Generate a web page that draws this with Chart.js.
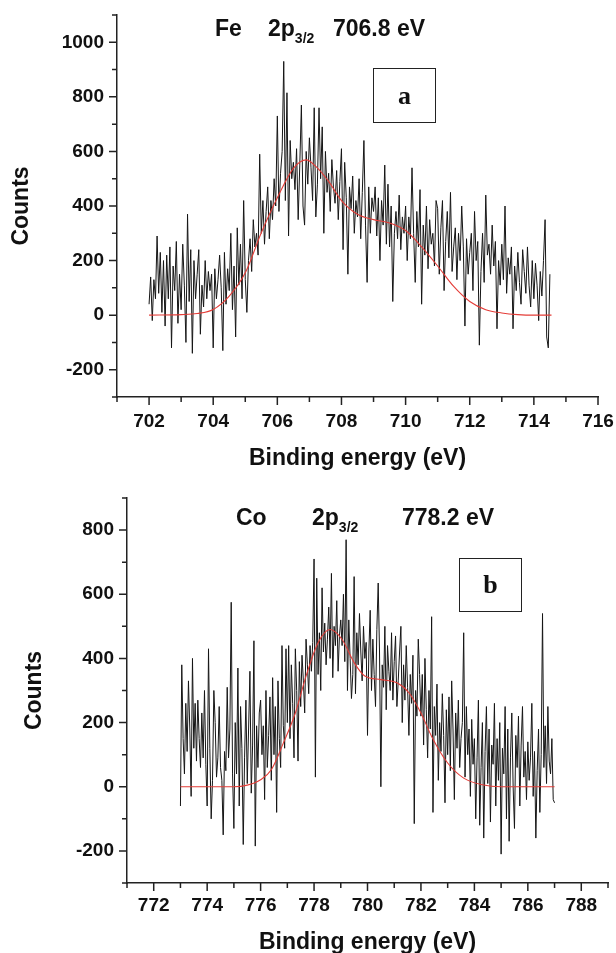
<!DOCTYPE html>
<html>
<head>
<meta charset="utf-8">
<script src="https://cdn.jsdelivr.net/npm/chart.js@4.4.1/dist/chart.umd.min.js"></script>
<style>
  html, body { margin: 0; padding: 0; background: #fff; }
  body { width: 616px; height: 953px; position: relative; overflow: hidden; font-family: "Liberation Sans", Arial, sans-serif; }
  canvas { position: absolute; left: 0; }
  .t { position: absolute; font-weight: bold; font-size: 23px; line-height: 1; color: #111; white-space: nowrap; }
  .sub { font-size: 14px; position: relative; top: 7px; }
  .box { position: absolute; border: 1.5px solid #222; box-sizing: border-box; display: flex; align-items: center; justify-content: center;
         font-family: "Liberation Serif", "Times New Roman", serif; font-weight: bold; font-size: 26px; color: #111; }
</style>
</head>
<body>
<canvas id="feChart" width="616" height="480" style="top:0px"></canvas>
<canvas id="coChart" width="616" height="490" style="top:470px"></canvas>

<div class="t" style="left:215px; top:17px;">Fe</div>
<div class="t" style="left:268px; top:17px;">2p<span class="sub">3/2</span></div>
<div class="t" style="left:333px; top:17px;">706.8 eV</div>
<div class="box" style="left:373px; top:68px; width:63px; height:55px;">a</div>

<div class="t" style="left:236px; top:506px;">Co</div>
<div class="t" style="left:312px; top:506px;">2p<span class="sub">3/2</span></div>
<div class="t" style="left:402px; top:506px;">778.2 eV</div>
<div class="box" style="left:459px; top:558px; width:63px; height:54px;">b</div>

<script>
// ---------- Data: Fe 2p3/2 (panel a) ----------
const feStart = 702.0;
const feStep = 0.05;
const feCounts = [
  40, 140, -20, 130, 60, 290, 80, 230, 10, 200, -40, 220, 60, 250, -120, 180, 90, 270, -30, 150,
  20, 260, 110, -100, 370, 50, 240, -140, 200, 60, 150, 240, -70, 110, 30, 200, 60, 160, 90, 150,
  -120, 170, 60, 130, 220, 100, -130, 230, 40, 170, 90, 300, 20, 180, -80, 320, 110, 260, 60, 420,
  130, 10, 200, 280, 160, 350, 250, 300, 220, 590, 300, 420, 260, 380, 470, 280, 420, 350, 500, 400,
  730, 380, 520, 600, 930, 420, 815, 290, 640, 500, 560, 460, 610, 350, 550, 770, 400, 330, 600, 480,
  650, 540, 420, 760, 360, 480, 760, 500, 690, 300, 600, 450, 520, 380, 570, 470, 410, 530, 350, 490,
  610, 240, 560, 430, 150, 470, 390, 510, 300, 420, 360, 500, 280, 450, 640, 330, 120, 470, 300, 430,
  380, 470, 290, 430, 200, 420, 330, 550, 260, 480, 250, 400, 50, 300, 380, 280, 440, 240, 360, 300,
  400, 200, 360, 280, 540, 300, 120, 380, 250, 460, 40, 330, 220, 400, 170, 350, 260, 300, 180, 420,
  390, 150, 320, 420, 90, 270, 380, 210, 450, 160, 250, 320, 130, 300, 200, 400, 250, -40, 280, 150,
  230, 300, 90, 380, 200, 270, -110, 160, 300, 120, 440, 220, 260, 150, 330, 180, 270, -50, 200, 110,
  260, 130, 400, 80, 210, 150, 250, -50, 180, 90, 230, 120, 40, 240, 160, 80, 250, 110, 30, 200,
  60, 190, 110, -20, 160, 70, 200, 350, -80, -120, 150
];
const feFitX = [702.0, 703.0, 703.5, 704.0, 704.5, 705.0, 705.5, 706.0, 706.5, 706.9, 707.2, 707.6, 708.0, 708.5, 709.0, 709.5, 710.0, 710.5, 711.0, 711.5, 712.0, 712.5, 713.0, 713.5, 714.0, 714.55];
const feFitY = [0, 2, 6, 21, 70, 155, 302, 430, 538, 569, 545, 490, 420, 370, 350, 338, 310, 250, 180, 105, 50, 20, 8, 2, 0, 0];

// ---------- Data: Co 2p3/2 (panel b) ----------
const coStart = 773.0;
const coStep = 0.05;
const coCounts = [
  -60, 380, 150, 40, 260, 110, 330, 180, -30, 400, 120, 260, 80, 270, 150, 60, 230, 90, 300, 70,
  -60, 430, 120, -100, 20, 300, 200, 30, 90, 250, 60, 20, -150, 110, 50, 310, 90, 180, 575, 40,
  -130, 200, 40, 370, -60, 250, 120, -180, 90, 270, 10, 180, 360, -20, 130, 455, -185, 190, 60, 230,
  270, 100, 190, -40, 300, 60, 160, 280, 20, 340, 100, 250, -80, 330, 150, 60, 440, 190, 120, 430,
  200, 440, 150, 380, 260, 90, 430, 300, 80, 390, 250, 410, 330, 230, 460, 380, 290, 440, 360, 450,
  710, 30, 650, 350, 480, 300, 620, 420, 510, 380, 460, 560, 400, 665, 340, 500, 440, 580, 360, 470,
  520, 440, 600, 390, 770, 300, 520, 400, 275, 350, 655, 290, 480, 380, 540, 420, 330, 500, 400, 450,
  160, 420, 550, 300, 460, 350, 250, 490, 635, 420, 0, 380, 310, 500, 240, 440, 360, 300, 480, 270,
  390, 470, 250, 330, 420, 500, 200, 380, 270, 440, 310, 160, 350, 260, 410, -115, 300, 220, 460, 350,
  220, 350, 130, 400, 240, 90, 300, 180, 530, -80, 250, 160, 320, 20, 200, 110, 290, 160, -50, 240,
  100, 280, 50, 330, 180, -40, 230, 120, 270, 60, 150, 200, 480, 30, 250, 100, 180, -30, 210, 70,
  150, -100, 90, 270, -120, 60, 200, -160, 110, 250, 10, 180, -110, 130, 70, 260, -60, 150, 20, 200,
  -210, 120, 40, 250, -100, 180, -170, 90, 230, 0, -130, 160, 60, 220, -60, 130, 250, 30, 110, -40,
  140, 20, 90, 260, -30, 110, -160, 50, 180, -80, 100, 540, 60, 190, 10, 250, 80, 40, 150, -40,
  -50
];
const coFitX = [773.0, 774.0, 775.0, 775.5, 776.0, 776.4, 776.85, 777.3, 777.7, 778.15, 778.6, 779.05, 779.5, 779.9, 780.5, 781.1, 781.55, 782.0, 782.4, 783.0, 783.6, 784.3, 785.0, 787.0];
const coFitY = [0, 0, 0, 5, 22, 53, 136, 230, 345, 449, 490, 459, 387, 345, 334, 324, 293, 230, 157, 74, 27, 6, 0, 0];

// ---------- Axis settings ----------
const feXTicks = { min: 701, max: 716, step: 1, labelEvery: 2 };
const feYTicks = { min: -300, max: 1100, step: 100, labelEvery: 200 };
const coXTicks = { min: 771, max: 789, step: 1, labelEvery: 2 };
const coYTicks = { min: -300, max: 900, step: 100, labelEvery: 200 };

function toPoints(start, step, arr) {
  return arr.map((v, i) => ({ x: +(start + i * step).toFixed(3), y: v }));
}
function zip(xs, ys) { return xs.map((x, i) => ({ x: x, y: ys[i] })); }

const tickMarks = {
  id: 'tickMarks',
  afterDraw(chart, args, opts) {
    const { ctx, chartArea: ca } = chart;
    const x = chart.scales.x, y = chart.scales.y;
    ctx.save();
    ctx.strokeStyle = '#222';
    ctx.lineWidth = 1.5;
    ctx.beginPath();
    x.ticks.forEach(t => {
      const v = Math.round(t.value);
      const px = x.getPixelForValue(v);
      const len = (v % opts.xEvery === 0) ? 8 : 5;
      ctx.moveTo(px, ca.bottom); ctx.lineTo(px, ca.bottom + len);
    });
    y.ticks.forEach(t => {
      const v = Math.round(t.value);
      const py = y.getPixelForValue(v);
      const len = (v % opts.yEvery === 0) ? 8 : 5;
      ctx.moveTo(ca.left, py); ctx.lineTo(ca.left - len, py);
    });
    ctx.stroke();
    ctx.restore();
  }
};

function makeChart(id, cfg) {
  const tickFont = { family: '"Liberation Sans", Arial, sans-serif', size: 19, weight: 'bold' };
  const titleFont = { family: '"Liberation Sans", Arial, sans-serif', size: 23, weight: 'bold' };
  return new Chart(document.getElementById(id), {
    type: 'line',
    data: {
      datasets: [
        { data: cfg.fit, borderColor: 'rgb(228,60,55)', borderWidth: 1.1, pointRadius: 0,
          cubicInterpolationMode: 'monotone', fill: false },
        { data: cfg.raw, borderColor: '#151515', borderWidth: 1, pointRadius: 0, tension: 0, fill: false }
      ]
    },
    options: {
      responsive: false,
      animation: false,
      events: [],
      layout: { padding: cfg.padding },
      plugins: {
        legend: { display: false }, tooltip: { enabled: false },
        tickMarks: { xEvery: cfg.xt.labelEvery, yEvery: cfg.yt.labelEvery }
      },
      scales: {
        x: {
          type: 'linear', min: cfg.xt.min, max: cfg.xt.max,
          grid: { display: false },
          border: { display: true, color: '#222', width: 1.5 },
          ticks: {
            stepSize: cfg.xt.step, autoSkip: false, maxRotation: 0, color: '#111', font: tickFont,
            padding: cfg.xPad,
            callback: v => (Math.round(v) % cfg.xt.labelEvery === 0 ? String(Math.round(v)) : '')
          },
          title: { display: true, text: 'Binding energy (eV)', color: '#111', font: titleFont,
                   padding: { top: 0, bottom: cfg.xTitleBottom } },
          afterFit: s => { s.height = cfg.xHeight; s.paddingLeft = 0; s.paddingRight = 0; }
        },
        y: {
          min: cfg.yt.min, max: cfg.yt.max,
          grid: { display: false },
          border: { display: true, color: '#222', width: 1.5 },
          ticks: {
            stepSize: cfg.yt.step, autoSkip: false, color: '#111', font: tickFont, padding: 5,
            callback: v => (Math.round(v) % cfg.yt.labelEvery === 0 ? String(Math.round(v)) : '')
          },
          title: { display: true, text: 'Counts', color: '#111', font: titleFont,
                   padding: { top: cfg.yTitleTop, bottom: 0 } },
          afterFit: s => { s.width = cfg.yWidth; s.paddingTop = 0; s.paddingBottom = 0; }
        }
      }
    },
    plugins: [tickMarks]
  });
}

makeChart('feChart', {
  raw: toPoints(feStart, feStep, feCounts),
  fit: zip(feFitX, feFitY),
  xt: feXTicks, yt: feYTicks,
  padding: { top: 15, right: 18, bottom: 0, left: 0 },
  xHeight: 83, yWidth: 117, xPad: 5, xTitleBottom: 8, yTitleTop: 8
});

makeChart('coChart', {
  raw: toPoints(coStart, coStep, coCounts),
  fit: zip(coFitX, coFitY),
  xt: coXTicks, yt: coYTicks,
  padding: { top: 28, right: 8, bottom: 0, left: 0 },
  xHeight: 77, yWidth: 127, xPad: 3, xTitleBottom: 4, yTitleTop: 21
});
</script>
</body>
</html>
